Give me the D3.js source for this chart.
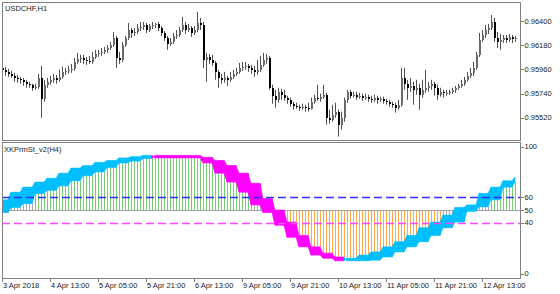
<!DOCTYPE html>
<html>
<head>
<meta charset="utf-8">
<script src="https://cdn.jsdelivr.net/npm/d3@7"></script>
<style>
body { margin: 0; background: #fff; }
svg { display: block; }
text { font-family: "Liberation Sans", Arial, sans-serif; font-size: 7.5px; fill: #1a1a1a; }
</style>
</head>
<body>
<svg id="chart" width="560" height="294"></svg>
<script>
// USDCHF H1 candles, 3 Apr 21:00 .. 13 Apr
var symbolTitle = 'USDCHF,H1';
var indicatorTitle = 'XKPrmSt_v2(H4)';
var firstBarTime = new Date(2018, 3, 3, 21);

var opens = [0.95974,0.95956,0.95937,0.95919,0.95901,0.95883,0.95874,0.95865,0.95847,0.95829,
0.95820,0.95792,0.95801,0.95883,0.95693,0.95820,0.95847,0.95865,0.95883,0.95865,
0.95892,0.95937,0.95947,0.95956,0.95965,0.96028,0.96055,0.96064,0.96046,0.96037,
0.96028,0.96073,0.96101,0.96110,0.96119,0.96137,0.96155,0.96182,0.96246,0.96064,
0.96046,0.96182,0.96246,0.96318,0.96291,0.96300,0.96337,0.96346,0.96364,0.96318,
0.96355,0.96364,0.96373,0.96337,0.96291,0.96246,0.96191,0.96210,0.96264,0.96273,
0.96318,0.96364,0.96318,0.96337,0.96291,0.96318,0.96382,0.96364,0.96046,0.96073,
0.96046,0.96019,0.95937,0.95883,0.95865,0.95883,0.95865,0.95892,0.95919,0.95937,
0.95974,0.95983,0.95992,0.95974,0.95956,0.95937,0.95956,0.96001,0.96046,0.96064,
0.95792,0.95720,0.95683,0.95756,0.95729,0.95702,0.95683,0.95647,0.95629,0.95620,
0.95611,0.95620,0.95611,0.95602,0.95665,0.95702,0.95693,0.95711,0.95729,0.95520,
0.95502,0.95547,0.95575,0.95457,0.95520,0.95683,0.95756,0.95720,0.95729,0.95711,
0.95720,0.95702,0.95711,0.95693,0.95683,0.95702,0.95683,0.95693,0.95674,0.95665,
0.95647,0.95638,0.95611,0.95638,0.95883,0.95829,0.95792,0.95810,0.95774,0.95792,
0.95729,0.95774,0.95792,0.95810,0.95829,0.95792,0.95729,0.95756,0.95747,0.95747,
0.95756,0.95774,0.95792,0.95810,0.95829,0.95865,0.95901,0.95928,0.95974,0.96092,
0.96228,0.96273,0.96318,0.96337,0.96391,0.96246,0.96210,0.96228,0.96246,0.96228,
0.96255,0.96237];

var highs = [0.96010,0.95983,0.95965,0.95947,0.95928,0.95910,0.95892,0.95883,0.95865,0.95847,
0.95829,0.95829,0.95919,0.95992,0.95865,0.95883,0.95901,0.95919,0.95910,0.95956,
0.95983,0.95974,0.95992,0.96010,0.96064,0.96110,0.96092,0.96092,0.96073,0.96083,
0.96119,0.96137,0.96137,0.96155,0.96164,0.96182,0.96210,0.96300,0.96264,0.96119,
0.96210,0.96264,0.96382,0.96337,0.96337,0.96373,0.96391,0.96391,0.96382,0.96373,
0.96391,0.96382,0.96391,0.96355,0.96309,0.96264,0.96246,0.96291,0.96318,0.96346,
0.96436,0.96391,0.96373,0.96355,0.96355,0.96482,0.96427,0.96391,0.96110,0.96101,
0.96092,0.96037,0.95956,0.95919,0.95937,0.95901,0.95937,0.95956,0.95974,0.96019,
0.96028,0.96028,0.96010,0.96001,0.95992,0.96046,0.96083,0.96110,0.96101,0.96083,
0.95820,0.95774,0.95792,0.95783,0.95774,0.95720,0.95702,0.95665,0.95656,0.95638,
0.95647,0.95638,0.95656,0.95702,0.95729,0.95820,0.95738,0.95820,0.95747,0.95593,
0.95638,0.95656,0.95593,0.95575,0.95702,0.95774,0.95774,0.95756,0.95756,0.95747,
0.95738,0.95738,0.95729,0.95720,0.95729,0.95720,0.95711,0.95711,0.95693,0.95683,
0.95665,0.95656,0.95683,0.95974,0.95974,0.95865,0.95883,0.95847,0.95865,0.95829,
0.95865,0.95956,0.95847,0.95865,0.95847,0.95820,0.95792,0.95774,0.95774,0.95774,
0.95792,0.95810,0.95829,0.95865,0.95892,0.95937,0.95974,0.96028,0.96119,0.96291,
0.96318,0.96364,0.96373,0.96454,0.96427,0.96300,0.96282,0.96273,0.96273,0.96282,
0.96273,0.96264];

var lows = [0.95937,0.95901,0.95892,0.95883,0.95847,0.95838,0.95829,0.95810,0.95792,0.95792,
0.95765,0.95774,0.95783,0.95520,0.95665,0.95792,0.95820,0.95838,0.95829,0.95847,
0.95874,0.95910,0.95919,0.95928,0.95947,0.96010,0.96019,0.96010,0.96001,0.96010,
0.96010,0.96055,0.96073,0.96083,0.96101,0.96110,0.96137,0.96164,0.95974,0.96010,
0.96028,0.96164,0.96228,0.96246,0.96264,0.96282,0.96309,0.96318,0.96291,0.96300,
0.96327,0.96337,0.96309,0.96264,0.96219,0.96137,0.96173,0.96191,0.96237,0.96255,
0.96300,0.96282,0.96300,0.96255,0.96273,0.96300,0.96318,0.95974,0.95847,0.96010,
0.95992,0.95865,0.95792,0.95829,0.95838,0.95810,0.95847,0.95874,0.95901,0.95919,
0.95947,0.95956,0.95937,0.95919,0.95892,0.95910,0.95937,0.95983,0.96010,0.95774,
0.95647,0.95611,0.95656,0.95683,0.95674,0.95647,0.95620,0.95593,0.95602,0.95584,
0.95593,0.95575,0.95575,0.95593,0.95647,0.95674,0.95665,0.95693,0.95457,0.95466,
0.95484,0.95520,0.95348,0.95411,0.95484,0.95656,0.95693,0.95702,0.95683,0.95693,
0.95674,0.95683,0.95665,0.95656,0.95665,0.95647,0.95665,0.95647,0.95638,0.95620,
0.95611,0.95566,0.95593,0.95620,0.95774,0.95683,0.95756,0.95638,0.95729,0.95593,
0.95702,0.95747,0.95756,0.95774,0.95720,0.95683,0.95711,0.95702,0.95720,0.95729,
0.95738,0.95747,0.95774,0.95792,0.95810,0.95847,0.95883,0.95901,0.95956,0.96073,
0.96210,0.96246,0.96282,0.96318,0.96210,0.96155,0.96137,0.96200,0.96200,0.96210,
0.96200,0.96210];

var closes = [0.95956,0.95937,0.95919,0.95901,0.95883,0.95874,0.95865,0.95847,0.95829,0.95820,
0.95792,0.95801,0.95883,0.95693,0.95820,0.95847,0.95865,0.95883,0.95865,0.95892,
0.95937,0.95947,0.95956,0.95965,0.96028,0.96055,0.96064,0.96046,0.96037,0.96028,
0.96073,0.96101,0.96110,0.96119,0.96137,0.96155,0.96182,0.96246,0.96064,0.96046,
0.96182,0.96246,0.96318,0.96291,0.96300,0.96337,0.96346,0.96364,0.96318,0.96355,
0.96364,0.96373,0.96337,0.96291,0.96246,0.96191,0.96210,0.96264,0.96273,0.96318,
0.96364,0.96318,0.96337,0.96291,0.96318,0.96382,0.96364,0.96046,0.96073,0.96046,
0.96019,0.95937,0.95883,0.95865,0.95883,0.95865,0.95892,0.95919,0.95937,0.95974,
0.95983,0.95992,0.95974,0.95956,0.95937,0.95956,0.96001,0.96046,0.96064,0.95792,
0.95720,0.95683,0.95756,0.95729,0.95702,0.95683,0.95647,0.95629,0.95620,0.95611,
0.95620,0.95611,0.95602,0.95665,0.95702,0.95693,0.95711,0.95729,0.95520,0.95502,
0.95547,0.95575,0.95457,0.95520,0.95683,0.95756,0.95720,0.95729,0.95711,0.95720,
0.95702,0.95711,0.95693,0.95683,0.95702,0.95683,0.95693,0.95674,0.95665,0.95647,
0.95638,0.95611,0.95638,0.95883,0.95829,0.95792,0.95810,0.95774,0.95792,0.95729,
0.95774,0.95792,0.95810,0.95829,0.95792,0.95729,0.95756,0.95747,0.95747,0.95756,
0.95774,0.95792,0.95810,0.95829,0.95865,0.95901,0.95928,0.95974,0.96092,0.96228,
0.96273,0.96318,0.96337,0.96391,0.96246,0.96210,0.96228,0.96246,0.96228,0.96255,
0.96237,0.96246];

var priceTicks = [0.96400, 0.96180, 0.95960, 0.95740, 0.95520];
var priceTickLabels = ['0.96400', '0.96180', '0.95960', '0.95740', '0.95520'];

var timeTickBars = [0, 16, 32, 48, 64, 80, 96, 112, 128, 144, 160];
var timeTickLabels = ['3 Apr 2018', '4 Apr 13:00', '5 Apr 05:00', '5 Apr 21:00', '6 Apr 13:00',
  '9 Apr 05:00', '9 Apr 21:00', '10 Apr 13:00', '11 Apr 05:00', '11 Apr 21:00', '12 Apr 13:00'];

// indicator, one value per H4 bar
var fastH4 = [58,64,68,72,75,79,83,85,87.5,89,91,92,93,91,91,91,91,87,79,72,64,54,48,38,28.5,21,14.5,12,10,
  12,14.5,17,21,25,30,36,40.5,46,52,54,63,68,73,76];
var slowH4 = [48,52,55,63,65.5,69,73,77,80,83.5,87,88.5,90.5,93,93,93,93,91.5,89,85,79,71,59,50,40.5,30,21,16,13,
  10,10,10.5,13,17,21,25,30,36,40.5,49,52.5,58,68,72];
var histState = ['flat','flat','flat','up','up','up','up','up','up','up','up','up','up','up','up','up','up','up','up','up','up',
  'flat','flat','down','down','down','down','down','down','down','down','down','down','down','down','down','down',
  'flat','flat','flat','flat','up','up','up'];
var indLevels = [60, 40];
var levelColors = ['#3030ee', '#ff48ff'];
var indTicks = [100, 60, 50, 40, 0];

var colors = {
  frame: '#808080',
  wick: '#505050',
  bull: '#6a6a6a',
  bear: '#000000',
  bandUp: '#00bfff',
  bandDown: '#ff00ff',
  hist: { up: '#74cf74', down: '#ffa64a', flat: '#a8a8a8' },
  base: '#a0a0a0'
};

var main = { left: 2, right: 520, top: 2, bottom: 140 };
var ind = { left: 2, right: 520, top: 142, bottom: 278 };

var svg = d3.select('#chart');

// bar times, weekends skipped
var barTimes = [];
var t = firstBarTime;
while (barTimes.length < closes.length) {
  if (t.getDay() !== 0 && t.getDay() !== 6) barTimes.push(t);
  t = d3.timeHour.offset(t, 1);
}
var h4Index = [];
barTimes.forEach(function(d, i) {
  if (i === 0) h4Index.push(0);
  else h4Index.push(h4Index[i - 1] + (d.getHours() % 4 === 0 ? 1 : 0));
});

var x = d3.scaleLinear().domain([0, closes.length - 1]).range([2, 2 + 3 * (closes.length - 1)]);
var yPrice = d3.scaleLinear().domain([0.95520, 0.96400]).range([117.7, 21]);
var yInd = d3.scaleLinear().domain([0, 100]).range([273.5, 146.5]);

svg.append('defs').call(function(defs) {
  defs.append('clipPath').attr('id', 'clipMain').append('rect')
    .attr('x', main.left).attr('y', main.top).attr('width', main.right - main.left).attr('height', main.bottom - main.top);
  defs.append('clipPath').attr('id', 'clipInd').append('rect')
    .attr('x', ind.left).attr('y', ind.top).attr('width', ind.right - ind.left).attr('height', ind.bottom - ind.top);
});

// ---- candles
var candleG = svg.append('g').attr('clip-path', 'url(#clipMain)');
var bars = candleG.selectAll('g.bar').data(closes).enter().append('g').attr('class', 'bar');
bars.append('line')
  .attr('x1', function(d, i) { return x(i) + 0.5; })
  .attr('x2', function(d, i) { return x(i) + 0.5; })
  .attr('y1', function(d, i) { return yPrice(highs[i]); })
  .attr('y2', function(d, i) { return yPrice(lows[i]); })
  .attr('stroke', colors.wick)
  .attr('stroke-width', 1);
bars.append('rect')
  .attr('x', function(d, i) { return x(i); })
  .attr('width', 2)
  .attr('y', function(d, i) { return Math.round(yPrice(Math.max(opens[i], closes[i]))); })
  .attr('height', function(d, i) {
    return Math.max(1, Math.round(Math.abs(yPrice(opens[i]) - yPrice(closes[i]))));
  })
  .attr('fill', function(d, i) { return closes[i] >= opens[i] ? colors.bull : colors.bear; });

// ---- indicator
var indG = svg.append('g').attr('clip-path', 'url(#clipInd)');
var indPoints = closes.map(function(d, i) {
  var k = h4Index[i];
  return { i: i, fast: fastH4[k], slow: slowH4[k], state: histState[k] };
});

indG.selectAll('line.hist').data(indPoints).enter().append('line')
  .attr('class', 'hist')
  .attr('x1', function(d) { return x(d.i) + 0.5; })
  .attr('x2', function(d) { return x(d.i) + 0.5; })
  .attr('y1', yInd(50))
  .attr('y2', function(d) { return yInd(d.slow); })
  .attr('stroke', function(d) { return colors.hist[d.state]; })
  .attr('stroke-width', 1);

indG.append('line')
  .attr('x1', ind.left).attr('x2', ind.right)
  .attr('y1', Math.round(yInd(50)) + 0.5).attr('y2', Math.round(yInd(50)) + 0.5)
  .attr('stroke', colors.base).attr('stroke-width', 1);

var band = d3.area()
  .x(function(d) { return x(d.i); })
  .y0(function(d) { return yInd(d.slow); })
  .y1(function(d) { return yInd(d.fast); });

var segs = d3.pairs(indPoints);
indG.selectAll('path.band').data(segs).enter().append('path')
  .attr('class', 'band')
  .attr('d', function(d) { return band(d); })
  .attr('fill', function(d) { return d[1].fast >= d[1].slow ? colors.bandUp : colors.bandDown; })
  .attr('stroke', function(d) { return d[1].fast >= d[1].slow ? colors.bandUp : colors.bandDown; })
  .attr('stroke-width', 0.6);

indG.selectAll('line.level').data(indLevels).enter().append('line')
  .attr('class', 'level')
  .attr('x1', ind.left).attr('x2', ind.right)
  .attr('y1', function(d) { return Math.round(yInd(d)) + 0.5; })
  .attr('y2', function(d) { return Math.round(yInd(d)) + 0.5; })
  .style('stroke', function(d, i) { return levelColors[i]; })
  .style('stroke-width', 1.4)
  .style('stroke-dasharray', '8,4');

// ---- frames
[main, ind].forEach(function(p) {
  svg.append('rect')
    .attr('x', p.left + 0.5).attr('y', p.top + 0.5)
    .attr('width', p.right - p.left).attr('height', p.bottom - p.top)
    .attr('fill', 'none').attr('stroke', colors.frame).attr('stroke-width', 1);
});

// ---- right axes
var priceAxis = svg.append('g');
priceAxis.selectAll('line').data(priceTicks).enter().append('line')
  .attr('x1', main.right + 0.5).attr('x2', main.right + 4)
  .attr('y1', function(d) { return Math.round(yPrice(d)) + 0.5; })
  .attr('y2', function(d) { return Math.round(yPrice(d)) + 0.5; })
  .attr('stroke', colors.frame);
priceAxis.selectAll('text').data(priceTicks).enter().append('text')
  .attr('x', main.right + 4.5)
  .attr('y', function(d) { return yPrice(d); })
  .attr('dy', '0.35em')
  .text(function(d, i) { return priceTickLabels[i]; });

var indAxis = svg.append('g');
indAxis.selectAll('line').data(indTicks).enter().append('line')
  .attr('x1', ind.right + 0.5).attr('x2', ind.right + 4)
  .attr('y1', function(d) { return Math.round(yInd(d)) + 0.5; })
  .attr('y2', function(d) { return Math.round(yInd(d)) + 0.5; })
  .attr('stroke', colors.frame);
indAxis.selectAll('text').data(indTicks).enter().append('text')
  .attr('x', ind.right + 4.5)
  .attr('y', function(d) { return yInd(d); })
  .attr('dy', '0.35em')
  .text(function(d) { return d; });

// ---- time axis
var timeAxis = svg.append('g');
timeAxis.selectAll('line').data(timeTickBars).enter().append('line')
  .attr('x1', function(d) { return x(d) + 0.5; })
  .attr('x2', function(d) { return x(d) + 0.5; })
  .attr('y1', ind.bottom + 0.5).attr('y2', ind.bottom + 4)
  .attr('stroke', colors.frame);
timeAxis.selectAll('text').data(timeTickBars).enter().append('text')
  .attr('x', function(d) { return x(d) + 1; })
  .attr('y', 288)
  .text(function(d, i) { return timeTickLabels[i]; });

// ---- titles
svg.append('text').attr('x', 5).attr('y', 10.5).text(symbolTitle);
svg.append('text').attr('x', 4).attr('y', 152).text(indicatorTitle);
</script>
</body>
</html>
